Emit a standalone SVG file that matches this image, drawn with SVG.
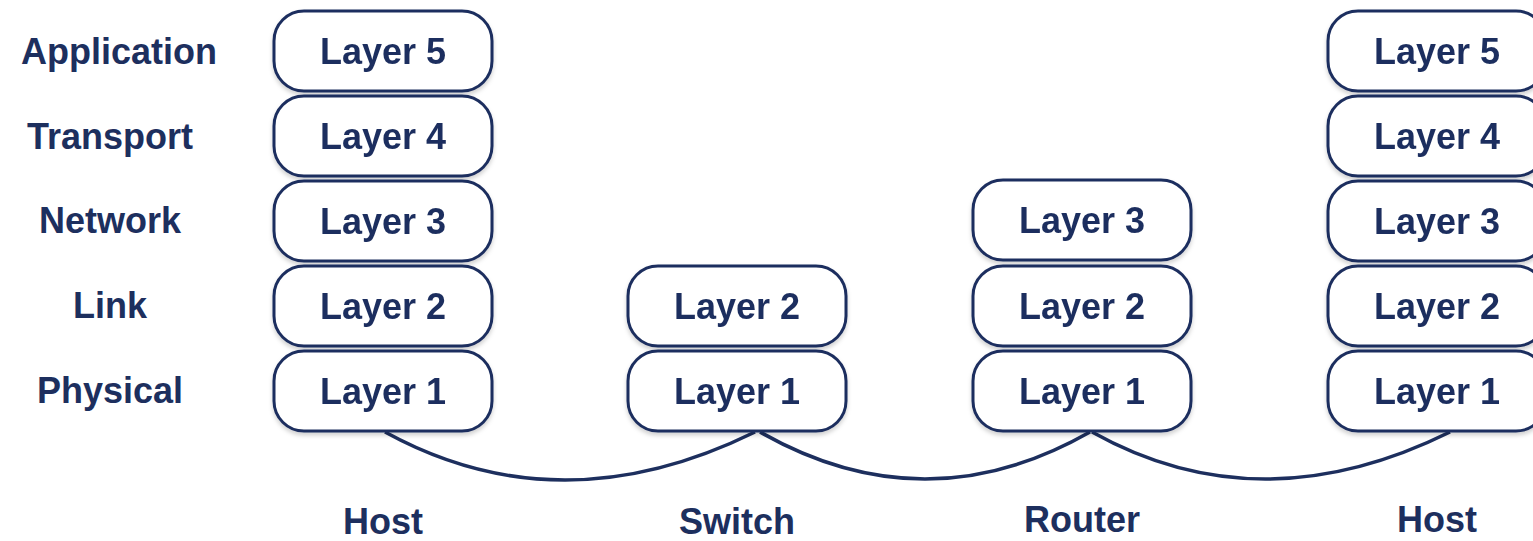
<svg xmlns="http://www.w3.org/2000/svg" width="1533" height="541" viewBox="0 0 1533 541">
<defs>
<style>
.box{fill:#fff;stroke:#1d2f5e;stroke-width:3}
.t{font-family:"Liberation Sans",Arial,sans-serif;font-weight:bold;font-size:36px;fill:#1d2f5e;text-anchor:middle}
.link{fill:none;stroke:#1d2f5e;stroke-width:3.5}
</style>
<filter id="sh" x="-10%" y="-10%" width="120%" height="130%">
<feDropShadow dx="0" dy="3" stdDeviation="2" flood-color="#000" flood-opacity="0.18"/>
</filter>
</defs>
<rect width="1533" height="541" fill="#fff"/>
<g id="layer-labels">
<text class="t" x="119" y="64">Application</text>
<text class="t" x="110" y="149">Transport</text>
<text class="t" x="110" y="233">Network</text>
<text class="t" x="110" y="318">Link</text>
<text class="t" x="110" y="403">Physical</text>
</g>
<g id="connectors">
<path class="link" d="M385,432 Q560,528 755,432"/>
<path class="link" d="M760,432 Q925,526 1090,432"/>
<path class="link" d="M1092,432 Q1260,526 1450,432"/>
</g>
<g id="host1" filter="url(#sh)">
<rect class="box" x="274" y="11" width="218" height="80" rx="30"/>
<text class="t" x="383" y="64">Layer 5</text>
<rect class="box" x="274" y="96" width="218" height="80" rx="30"/>
<text class="t" x="383" y="149">Layer 4</text>
<rect class="box" x="274" y="181" width="218" height="80" rx="30"/>
<text class="t" x="383" y="234">Layer 3</text>
<rect class="box" x="274" y="266" width="218" height="80" rx="30"/>
<text class="t" x="383" y="319">Layer 2</text>
<rect class="box" x="274" y="351" width="218" height="80" rx="30"/>
<text class="t" x="383" y="404">Layer 1</text>
</g>
<g id="switch" filter="url(#sh)">
<rect class="box" x="628" y="266" width="218" height="80" rx="30"/>
<text class="t" x="737" y="319">Layer 2</text>
<rect class="box" x="628" y="351" width="218" height="80" rx="30"/>
<text class="t" x="737" y="404">Layer 1</text>
</g>
<g id="router" filter="url(#sh)">
<rect class="box" x="973" y="180" width="218" height="80" rx="30"/>
<text class="t" x="1082" y="233">Layer 3</text>
<rect class="box" x="973" y="266" width="218" height="80" rx="30"/>
<text class="t" x="1082" y="319">Layer 2</text>
<rect class="box" x="973" y="351" width="218" height="80" rx="30"/>
<text class="t" x="1082" y="404">Layer 1</text>
</g>
<g id="host2" filter="url(#sh)">
<rect class="box" x="1328" y="11" width="218" height="80" rx="30"/>
<text class="t" x="1437" y="64">Layer 5</text>
<rect class="box" x="1328" y="96" width="218" height="80" rx="30"/>
<text class="t" x="1437" y="149">Layer 4</text>
<rect class="box" x="1328" y="181" width="218" height="80" rx="30"/>
<text class="t" x="1437" y="234">Layer 3</text>
<rect class="box" x="1328" y="266" width="218" height="80" rx="30"/>
<text class="t" x="1437" y="319">Layer 2</text>
<rect class="box" x="1328" y="351" width="218" height="80" rx="30"/>
<text class="t" x="1437" y="404">Layer 1</text>
</g>
<g id="device-labels">
<text class="t" x="383" y="534">Host</text>
<text class="t" x="737" y="534">Switch</text>
<text class="t" x="1082" y="532">Router</text>
<text class="t" x="1437" y="532">Host</text>
</g>
</svg>
